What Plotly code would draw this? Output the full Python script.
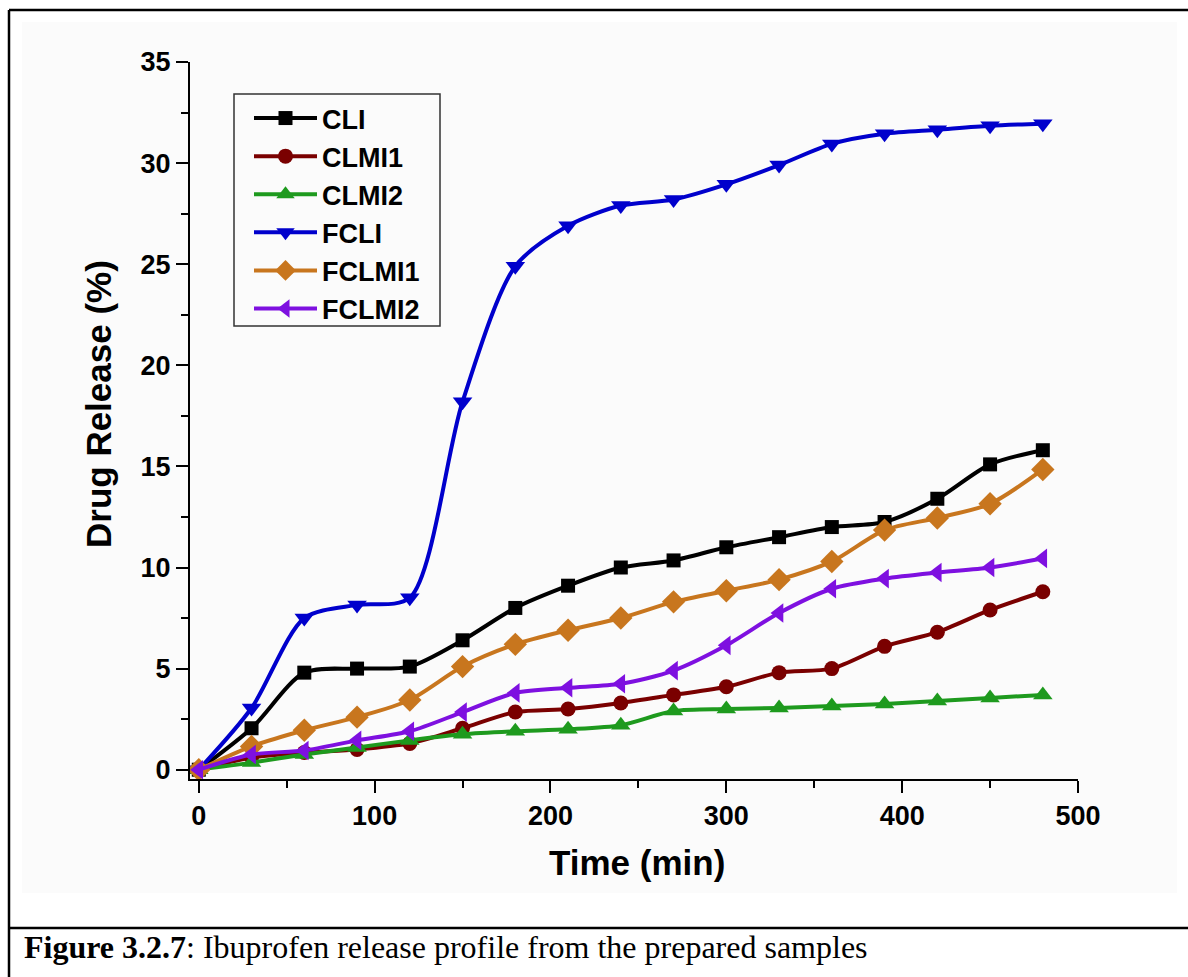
import plotly.graph_objects as go

# ---- data ----
time_min = [0, 30, 60, 90, 120, 150, 180, 210, 240, 270, 300, 330, 360, 390, 420, 450, 480]
CLI = [0, 2.05, 4.8, 5.0, 5.1, 6.4, 8.0, 9.1, 10.0, 10.35, 11.0, 11.5, 12.0, 12.25, 13.4, 15.1, 15.8]
CLMI1 = [0, 0.6, 0.85, 1.0, 1.3, 2.05, 2.85, 3.0, 3.3, 3.7, 4.1, 4.8, 5.0, 6.1, 6.8, 7.9, 8.8]
CLMI2 = [0, 0.35, 0.75, 1.1, 1.45, 1.75, 1.9, 2.0, 2.2, 2.9, 3.0, 3.05, 3.15, 3.25, 3.4, 3.55, 3.7]
FCLI = [0, 3.05, 7.5, 8.15, 8.5, 18.2, 24.9, 26.9, 27.9, 28.2, 28.95, 29.9, 30.95, 31.45, 31.65, 31.85, 31.95]
FCLMI1 = [0, 1.15, 1.95, 2.6, 3.45, 5.1, 6.2, 6.9, 7.5, 8.3, 8.85, 9.4, 10.3, 11.85, 12.45, 13.15, 14.85]
FCLMI2 = [0, 0.75, 0.95, 1.45, 1.9, 2.85, 3.8, 4.05, 4.25, 4.9, 6.15, 7.75, 8.95, 9.45, 9.75, 10.0, 10.45]

series_names = ["CLI", "CLMI1", "CLMI2", "FCLI", "FCLMI1", "FCLMI2"]
series_values = [CLI, CLMI1, CLMI2, FCLI, FCLMI1, FCLMI2]
colors = ["#000000", "#7A0000", "#1E9A1E", "#0000CC", "#C8761E", "#7E10E0"]
symbols = ["square", "circle", "triangle-up", "triangle-down", "diamond", "triangle-left"]
msizes = [14, 15, 17, 17, 18, 17]

x_title = "Time (min)"
y_title = "Drug Release (%)"
caption_bold = "Figure 3.2.7"
caption_rest = ": Ibuprofen release profile from the prepared samples"

W, H = 1188, 977
L, R, T, B = 190, 110, 62, 198
PW, PH = W - L - R, H - T - B

def px(x):
    return (x - L) / PW

def py(y):
    return (H - B - y) / PH

SANS = "Liberation Sans, Arial, sans-serif"
SERIF = "Liberation Serif, Times New Roman, serif"

fig = go.Figure()
for name, vals, c, s, ms in zip(series_names, series_values, colors, symbols, msizes):
    fig.add_trace(go.Scatter(
        x=time_min, y=vals, name=name, mode="lines+markers",
        line=dict(color=c, width=4, shape="spline", smoothing=0.8),
        marker=dict(symbol=s, size=ms, color=c, line=dict(width=0)),
    ))

axis_common = dict(
    showline=True, linecolor="black", linewidth=2, mirror=False,
    ticks="outside", ticklen=12, tickwidth=2, tickcolor="black",
    showgrid=False, zeroline=False,
    tickfont=dict(family=SANS, size=27, color="black", weight="bold"),
)
fig.update_xaxes(range=[-5, 500], tick0=0, dtick=100,
                 minor=dict(ticks="outside", ticklen=7, tickwidth=2, tickcolor="black", dtick=50),
                 **axis_common)
fig.update_yaxes(range=[-0.46, 35], tick0=0, dtick=5,
                 minor=dict(ticks="outside", ticklen=7, tickwidth=2, tickcolor="black", dtick=2.5),
                 **axis_common)

shapes = [
    dict(type="rect", xref="paper", yref="paper", x0=px(22), x1=px(1177), y0=py(22), y1=py(893),
         fillcolor="#fbfbfb", line=dict(width=0), layer="below"),
    dict(type="line", xref="paper", yref="paper", x0=px(9), x1=px(9), y0=py(10), y1=py(977),
         line=dict(color="black", width=2.5)),
    dict(type="line", xref="paper", yref="paper", x0=px(9), x1=px(1188), y0=py(10), y1=py(10),
         line=dict(color="black", width=2.5)),
    dict(type="line", xref="paper", yref="paper", x0=px(9), x1=px(1188), y0=py(928), y1=py(928),
         line=dict(color="black", width=2.5)),
    # legend frame
    dict(type="rect", xref="paper", yref="paper", x0=px(234), x1=px(440), y0=py(94), y1=py(326),
         line=dict(color="#333333", width=1.5), fillcolor="rgba(0,0,0,0)"),
]

annotations = [
    dict(text="<b>" + x_title + "</b>", xref="paper", yref="paper", x=px(637), y=py(862),
         xanchor="center", yanchor="middle", showarrow=False,
         font=dict(family=SANS, size=35, color="black")),
    dict(text="<b>" + y_title + "</b>", xref="paper", yref="paper", x=px(98), y=py(404),
         xanchor="center", yanchor="middle", showarrow=False, textangle=-90,
         font=dict(family=SANS, size=35, color="black")),
    dict(text="<b>" + caption_bold + "</b>" + caption_rest, xref="paper", yref="paper",
         x=px(22), y=py(947), xanchor="left", yanchor="middle", showarrow=False,
         font=dict(family=SERIF, size=32, color="black")),
]

fig.update_layout(
    width=W, height=H,
    margin=dict(l=L, r=R, t=T, b=B),
    paper_bgcolor="white", plot_bgcolor="rgba(0,0,0,0)",
    showlegend=True,
    legend=dict(x=px(249), y=py(94), xanchor="left", yanchor="top",
                bgcolor="rgba(0,0,0,0)", borderwidth=0,
                font=dict(family=SANS, size=27, color="black", weight="bold"),
                itemwidth=63),
    shapes=shapes, annotations=annotations,
)

fig.write_html("out.html")
